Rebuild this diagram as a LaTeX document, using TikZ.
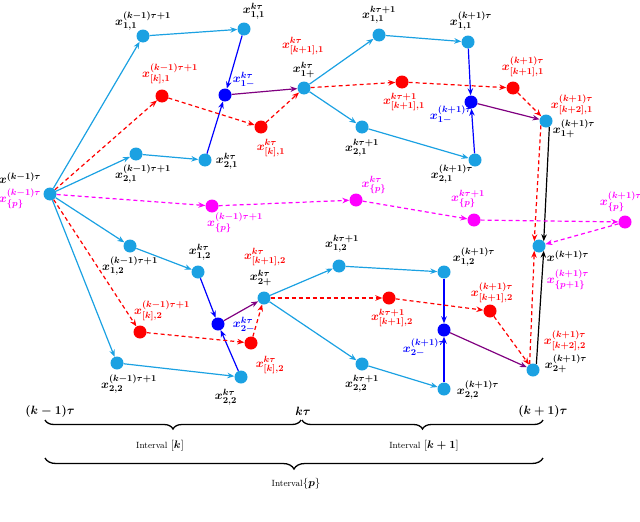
\documentclass[tikz,border=0pt]{standalone}
\usepackage{amsmath}
\usetikzlibrary{arrows.meta,decorations.pathreplacing}
\definecolor{cyanN}{RGB}{27,161,226}
\definecolor{purpN}{RGB}{128,0,128}
\definecolor{magN}{RGB}{255,0,255}
\begin{document}
\begin{tikzpicture}[x=1pt,y=-1pt,
  dot/.style={circle,inner sep=0pt,minimum size=13pt},
  cn/.style={dot,fill=cyanN},
  rn/.style={dot,fill=red},
  bn/.style={dot,fill=blue},
  mn/.style={dot,fill=magN},
  tip/.style={-{Stealth[length=7pt,width=5.5pt]}},
  cy/.style={tip,draw=cyanN,line width=1.2pt},
  bl/.style={tip,draw=blue,line width=1.2pt},
  pu/.style={tip,draw=purpN,line width=1.2pt},
  bk/.style={tip,draw=black,line width=1.2pt},
  rd/.style={tip,draw=red,line width=1.2pt,dash pattern=on 4pt off 3pt},
  md/.style={tip,draw=magN,line width=1.2pt,dash pattern=on 4pt off 3pt},
  lb/.style={inner sep=0pt,font=\fontsize{12.5}{14}\selectfont\boldmath},
  brc/.style={draw=black,line width=1.3pt,decorate},
  itv/.style={inner sep=0pt,font=\fontsize{11}{13}\selectfont}
]
\useasboundingbox (0,0) rectangle (640,522);
% ---------- nodes ----------
\node[cn] (A)    at (50,194) {};
\node[cn] (n11a) at (143,36) {};
\node[rn] (r1a)  at (162,96) {};
\node[cn] (n21a) at (136,154) {};
\node[cn] (n21b) at (205,160) {};
\node[cn] (n11b) at (244,29) {};
\node[bn] (b1)   at (225,95) {};
\node[rn] (r1b)  at (261,127) {};
\node[cn] (p1)   at (304,88) {};
\node[cn] (n11c) at (379,35) {};
\node[rn] (r1c)  at (402,82) {};
\node[cn] (n21c) at (362,127) {};
\node[cn] (n11d) at (468,42) {};
\node[bn] (b1d)  at (471,102) {};
\node[rn] (r1d)  at (513,88) {};
\node[cn] (n21d) at (475,160) {};
\node[cn] (p1d)  at (546,121) {};
\node[mn] (m1)   at (212,206) {};
\node[mn] (m2)   at (356,200) {};
\node[mn] (m3)   at (474,220) {};
\node[mn] (m4)   at (625,222) {};
\node[cn] (C)    at (539,246) {};
\node[cn] (n12a) at (130,246) {};
\node[cn] (n12b) at (198,272) {};
\node[rn] (r2a)  at (140,332) {};
\node[cn] (n22a) at (117,363) {};
\node[bn] (b2)   at (218,324) {};
\node[rn] (r2b)  at (251,343) {};
\node[cn] (n22b) at (241,377) {};
\node[cn] (p2)   at (264,298) {};
\node[cn] (n12c) at (339,266) {};
\node[rn] (r2c)  at (389,298) {};
\node[cn] (n22c) at (362,364) {};
\node[cn] (n12d) at (444,272) {};
\node[bn] (b2d)  at (444,330) {};
\node[rn] (r2d)  at (490,311) {};
\node[cn] (n22d) at (444,389) {};
\node[cn] (p2d)  at (533,370) {};
% ---------- edges ----------
\draw[cy] (A) -- (n11a);
\draw[cy] (A) -- (n21a);
\draw[cy] (A) -- (n12a);
\draw[cy] (A) -- (n22a);
\draw[cy] (n11a) -- (n11b);
\draw[cy] (n21a) -- (n21b);
\draw[cy] (n12a) -- (n12b);
\draw[cy] (n22a) -- (n22b);
\draw[cy] (p1) -- (n11c);
\draw[cy] (p1) -- (n21c);
\draw[cy] (n11c) -- (n11d);
\draw[cy] (n21c) -- (n21d);
\draw[cy] (p2) -- (n12c);
\draw[cy] (p2) -- (n22c);
\draw[cy] (n12c) -- (n12d);
\draw[cy] (n22c) -- (n22d);
\draw[bl] (n11b) -- (b1);
\draw[bl] (n21b) -- (b1);
\draw[bl] (n11d) -- (b1d);
\draw[bl] (n21d) -- (b1d);
\draw[bl] (n12b) -- (b2);
\draw[bl] (n22b) -- (b2);
\draw[bl] (n12d) -- (b2d);
\draw[bl] (n22d) -- (b2d);
\draw[pu] (b1) -- (p1);
\draw[pu] (b1d) -- (p1d);
\draw[pu] (b2) -- (p2);
\draw[pu] (b2d) -- (p2d);
\draw[rd] (A) -- (r1a);
\draw[rd] (A) -- (r2a);
\draw[rd] (r1a) -- (r1b);
\draw[rd] (r1b) -- (p1);
\draw[rd] (r2a) -- (r2b);
\draw[rd] (r2b) -- (p2);
\draw[rd] (p1) -- (r1c);
\draw[rd] (r1c) -- (r1d);
\draw[rd] (r1d) -- (p1d);
\draw[rd] (p2) -- (r2c);
\draw[rd] (r2c) -- (r2d);
\draw[rd] (r2d) -- (p2d);
\draw[rd] (p1d.-140) -- (C.135);
\draw[rd] (p2d.120) -- (C.-135);
\draw[bk] (p1d.-60) -- (C.45);
\draw[bk] (p2d.60) -- (C.-45);
\draw[md] (A) -- (m1);
\draw[md] (m1) -- (m2);
\draw[md] (m2) -- (m3);
\draw[md] (m3) -- (m4);
\draw[md] (m4) -- (C);
% ---------- labels ----------
\node[lb] (lA) at (20,178) {$x^{(k-1)\tau}$};
\node[lb,text=magN] (lAp) at (20,199) {$x^{(k-1)\tau}_{\{p\}}$};
\node[lb] (l11a) at (143,21) {$x^{(k-1)\tau+1}_{1,1}$};
\node[lb,text=red] (lr1a) at (170,74) {$x^{(k-1)\tau+1}_{[k],1}$};
\node[lb] (l21a) at (143,174) {$x^{(k-1)\tau+1}_{2,1}$};
\node[lb] (l21b) at (227,161) {$x^{k\tau}_{2,1}$};
\node[lb] (l11b) at (254,11) {$x^{k\tau}_{1,1}$};
\node[lb,text=blue] (lb1) at (244,80) {$x^{k\tau}_{1-}$};
\node[lb,text=red] (lr1b) at (271,148) {$x^{k\tau}_{[k],1}$};
\node[lb,text=red] (lp1r) at (303,46) {$x^{k\tau}_{[k+1],1}$};
\node[lb] (lp1) at (304,70) {$x^{k\tau}_{1+}$};
\node[lb] (l11c) at (379,15) {$x^{k\tau+1}_{1,1}$};
\node[lb,text=red] (lr1c) at (404,102) {$x^{k\tau+1}_{[k+1],1}$};
\node[lb] (l21c) at (362,148) {$x^{k\tau+1}_{2,1}$};
\node[lb] (l11d) at (471,21) {$x^{(k+1)\tau}_{1,1}$};
\node[lb,text=red] (lr1d) at (523,67) {$x^{(k+1)\tau}_{[k+1],1}$};
\node[lb,text=blue] (lb1d) at (451,115) {$x^{(k+1)\tau}_{1-}$};
\node[lb,text=red] (lp1dr) at (572,105) {$x^{(k+1)\tau}_{[k+2],1}$};
\node[lb] (lp1d) at (574,129) {$x^{(k+1)\tau}_{1+}$};
\node[lb] (l21d) at (452,174) {$x^{(k+1)\tau}_{2,1}$};
\node[lb,text=magN] (lm1) at (235,223) {$x^{(k-1)\tau+1}_{\{p\}}$};
\node[lb,text=magN] (lm2) at (374,185) {$x^{k\tau}_{\{p\}}$};
\node[lb,text=magN] (lm3) at (468,199) {$x^{k\tau+1}_{\{p\}}$};
\node[lb,text=magN] (lm4) at (621,202) {$x^{(k+1)\tau}_{\{p\}}$};
\node[lb] (lC) at (568,256) {$x^{(k+1)\tau}$};
\node[lb,text=magN] (lCp) at (568,280) {$x^{(k+1)\tau}_{\{p+1\}}$};
\node[lb] (l12a) at (130,266) {$x^{(k-1)\tau+1}_{1,2}$};
\node[lb] (l12b) at (200,252) {$x^{k\tau}_{1,2}$};
\node[lb,text=red] (lr2a) at (162,311) {$x^{(k-1)\tau+1}_{[k],2}$};
\node[lb] (l22a) at (129,384) {$x^{(k-1)\tau+1}_{2,2}$};
\node[lb,text=red] (lp2r) at (265,257) {$x^{k\tau}_{[k+1],2}$};
\node[lb] (lp2) at (261,278) {$x^{k\tau}_{2+}$};
\node[lb] (l12c) at (342,244) {$x^{k\tau+1}_{1,2}$};
\node[lb,text=red] (lr2c) at (392,318) {$x^{k\tau+1}_{[k+1],2}$};
\node[lb,text=blue] (lb2) at (244,325) {$x^{k\tau}_{2-}$};
\node[lb,text=red] (lr2b) at (270,365) {$x^{k\tau}_{[k],2}$};
\node[lb] (l22b) at (226,397) {$x^{k\tau}_{2,2}$};
\node[lb,text=red] (lr2d) at (492,293) {$x^{(k+1)\tau}_{[k+1],2}$};
\node[lb,text=blue] (lb2d) at (424,348) {$x^{(k+1)\tau}_{2-}$};
\node[lb] (l22c) at (362,384) {$x^{k\tau+1}_{2,2}$};
\node[lb] (l22d) at (478,390) {$x^{(k+1)\tau}_{2,2}$};
\node[lb] (l12d) at (474,257) {$x^{(k+1)\tau}_{1,2}$};
\node[lb,text=red] (lp2dr) at (565,341) {$x^{(k+1)\tau}_{[k+2],2}$};
\node[lb] (lp2d) at (566,364) {$x^{(k+1)\tau}_{2+}$};
% ---------- time axis ----------
\node[lb,font=\fontsize{12}{14}\selectfont\boldmath] (t0) at (50,411) {$(k-1)\tau$};
\node[lb,font=\fontsize{12}{14}\selectfont\boldmath] (t1) at (303,411) {$k\tau$};
\node[lb,font=\fontsize{12}{14}\selectfont\boldmath] (t2) at (543,411) {$(k+1)\tau$};
\coordinate (b0) at (45,420);
\coordinate (b1e) at (301,420);
\coordinate (b2s) at (302,420);
\coordinate (b2e) at (543,420);
\coordinate (c0) at (45,458);
\coordinate (c1) at (543,458);
\draw[brc,decoration={brace,mirror,amplitude=9pt}] (b0) -- (b1e);
\draw[brc,decoration={brace,mirror,amplitude=9pt}] (b2s) -- (b2e);
\draw[brc,decoration={brace,mirror,amplitude=11pt}] (c0) -- (c1);
\node[itv] (i1) at (160,446) {{\fontsize{9}{11}\selectfont Interval} $[\boldsymbol{k}]$};
\node[itv] (i2) at (424,446) {{\fontsize{9}{11}\selectfont Interval} $[\boldsymbol{k+1}]$};
\node[itv] (i3) at (296,484) {{\fontsize{9}{11}\selectfont Interval}$\{\boldsymbol{p}\}$};
\end{tikzpicture}
\end{document}
